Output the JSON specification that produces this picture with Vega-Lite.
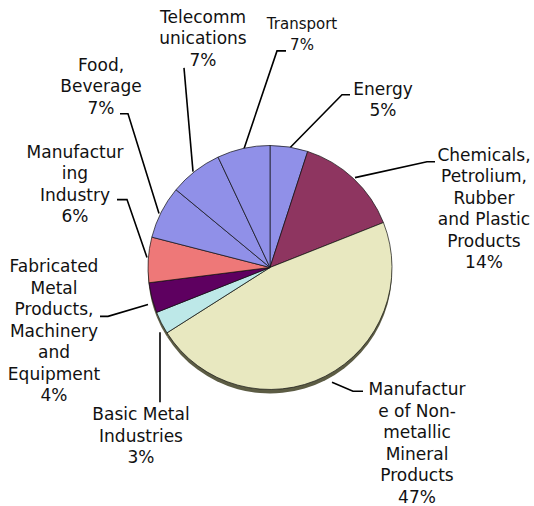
{
  "$schema": "https://vega.github.io/schema/vega-lite/v6.json",
  "width": 534,
  "height": 506,
  "padding": 0,
  "autosize": {"type": "fit", "contains": "padding"},
  "config": {"view": {"stroke": null}, "font": "DejaVu Sans"},
  "datasets": {
    "slices": [
      {"ord": 1, "name": "Energy", "value": 5},
      {"ord": 2, "name": "Chemicals", "value": 14},
      {"ord": 3, "name": "Non-metallic", "value": 47},
      {"ord": 4, "name": "Basic Metal", "value": 3},
      {"ord": 5, "name": "Fabricated Metal", "value": 4},
      {"ord": 6, "name": "Manufacturing", "value": 6},
      {"ord": 7, "name": "Food", "value": 7},
      {"ord": 8, "name": "Telecommunications", "value": 7},
      {"ord": 9, "name": "Transport", "value": 7}
    ],
    "labels": [
      {"label": "Telecomm\nunications\n7%", "u": -67, "v": 245, "size": 17},
      {"label": "Transport\n7%", "u": 32, "v": 239, "size": 15},
      {"label": "Energy\n5%", "u": 113, "v": 173, "size": 17},
      {"label": "Food,\nBeverage\n7%", "u": -169, "v": 197, "size": 17},
      {"label": "Manufactur\ning\nIndustry\n6%", "u": -195, "v": 110, "size": 17},
      {"label": "Fabricated\nMetal\nProducts,\nMachinery\nand\nEquipment\n4%", "u": -216, "v": -5, "size": 17},
      {"label": "Basic Metal\nIndustries\n3%", "u": -129, "v": -153, "size": 17},
      {"label": "Manufactur\ne of Non-\nmetallic\nMineral\nProducts\n47%", "u": 147, "v": -128, "size": 17},
      {"label": "Chemicals,\nPetrolium,\nRubber\nand Plastic\nProducts\n14%", "u": 214, "v": 107, "size": 17}
    ],
    "leaders": [
      {"id": "tel", "seq": 1, "u": -86, "v": 200},
      {"id": "tel", "seq": 2, "u": -77, "v": 96},
      {"id": "tra", "seq": 1, "u": 16, "v": 217},
      {"id": "tra", "seq": 2, "u": 7, "v": 217},
      {"id": "tra", "seq": 3, "u": -27, "v": 116},
      {"id": "ene", "seq": 1, "u": 80, "v": 173},
      {"id": "ene", "seq": 2, "u": 72, "v": 173},
      {"id": "ene", "seq": 3, "u": 18, "v": 118},
      {"id": "foo", "seq": 1, "u": -150, "v": 154},
      {"id": "foo", "seq": 2, "u": -142, "v": 154},
      {"id": "foo", "seq": 3, "u": -111, "v": 54},
      {"id": "man", "seq": 1, "u": -153, "v": 68},
      {"id": "man", "seq": 2, "u": -143, "v": 68},
      {"id": "man", "seq": 3, "u": -123, "v": 10},
      {"id": "fab", "seq": 1, "u": -170, "v": -49},
      {"id": "fab", "seq": 2, "u": -162, "v": -49},
      {"id": "fab", "seq": 3, "u": -122, "v": -37},
      {"id": "bas", "seq": 1, "u": -110, "v": -65},
      {"id": "bas", "seq": 2, "u": -110, "v": -135},
      {"id": "non", "seq": 1, "u": 62, "v": -115},
      {"id": "non", "seq": 2, "u": 83, "v": -124},
      {"id": "non", "seq": 3, "u": 93, "v": -124},
      {"id": "che", "seq": 1, "u": 85, "v": 90},
      {"id": "che", "seq": 2, "u": 157, "v": 106},
      {"id": "che", "seq": 3, "u": 165, "v": 106}
    ]
  },
  "layer": [
    {
      "data": {"name": "leaders"},
      "mark": {"type": "line", "color": "#000000", "strokeWidth": 1.6},
      "encoding": {
        "x": {"field": "u", "type": "quantitative", "scale": {"domain": [-270, 264], "nice": false, "zero": false}, "axis": null},
        "y": {"field": "v", "type": "quantitative", "scale": {"domain": [-238, 268], "nice": false, "zero": false}, "axis": null},
        "detail": {"field": "id"},
        "order": {"field": "seq"}
      }
    },
    {
      "data": {"name": "slices"},
      "mark": {"type": "arc", "outerRadius": 122, "color": "#5c5c44", "yOffset": 4},
      "encoding": {
        "x": {"datum": 0, "type": "quantitative"},
        "y": {"datum": 0, "type": "quantitative"},
        "theta": {"field": "value", "type": "quantitative", "stack": true},
        "order": {"field": "ord"}
      }
    },
    {
      "data": {"name": "slices"},
      "mark": {"type": "arc", "outerRadius": 122, "stroke": "#111111", "strokeWidth": 0.7},
      "encoding": {
        "x": {"datum": 0, "type": "quantitative"},
        "y": {"datum": 0, "type": "quantitative"},
        "theta": {"field": "value", "type": "quantitative", "stack": true},
        "order": {"field": "ord"},
        "color": {
          "field": "name",
          "type": "nominal",
          "scale": {
            "domain": ["Energy", "Chemicals", "Non-metallic", "Basic Metal", "Fabricated Metal", "Manufacturing", "Food", "Telecommunications", "Transport"],
            "range": ["#9090E8", "#8E3560", "#E8E8C0", "#BDE8E8", "#5E0060", "#EE7878", "#9090E8", "#9090E8", "#9090E8"]
          },
          "legend": null
        }
      }
    },
    {
      "data": {"name": "labels"},
      "mark": {"type": "text", "align": "center", "baseline": "alphabetic", "lineBreak": "\n", "lineHeight": 21.5, "color": "#111111", "font": "DejaVu Sans"},
      "encoding": {
        "x": {"field": "u", "type": "quantitative"},
        "y": {"field": "v", "type": "quantitative"},
        "text": {"field": "label"},
        "size": {"field": "size", "type": "quantitative", "scale": null}
      }
    }
  ]
}
